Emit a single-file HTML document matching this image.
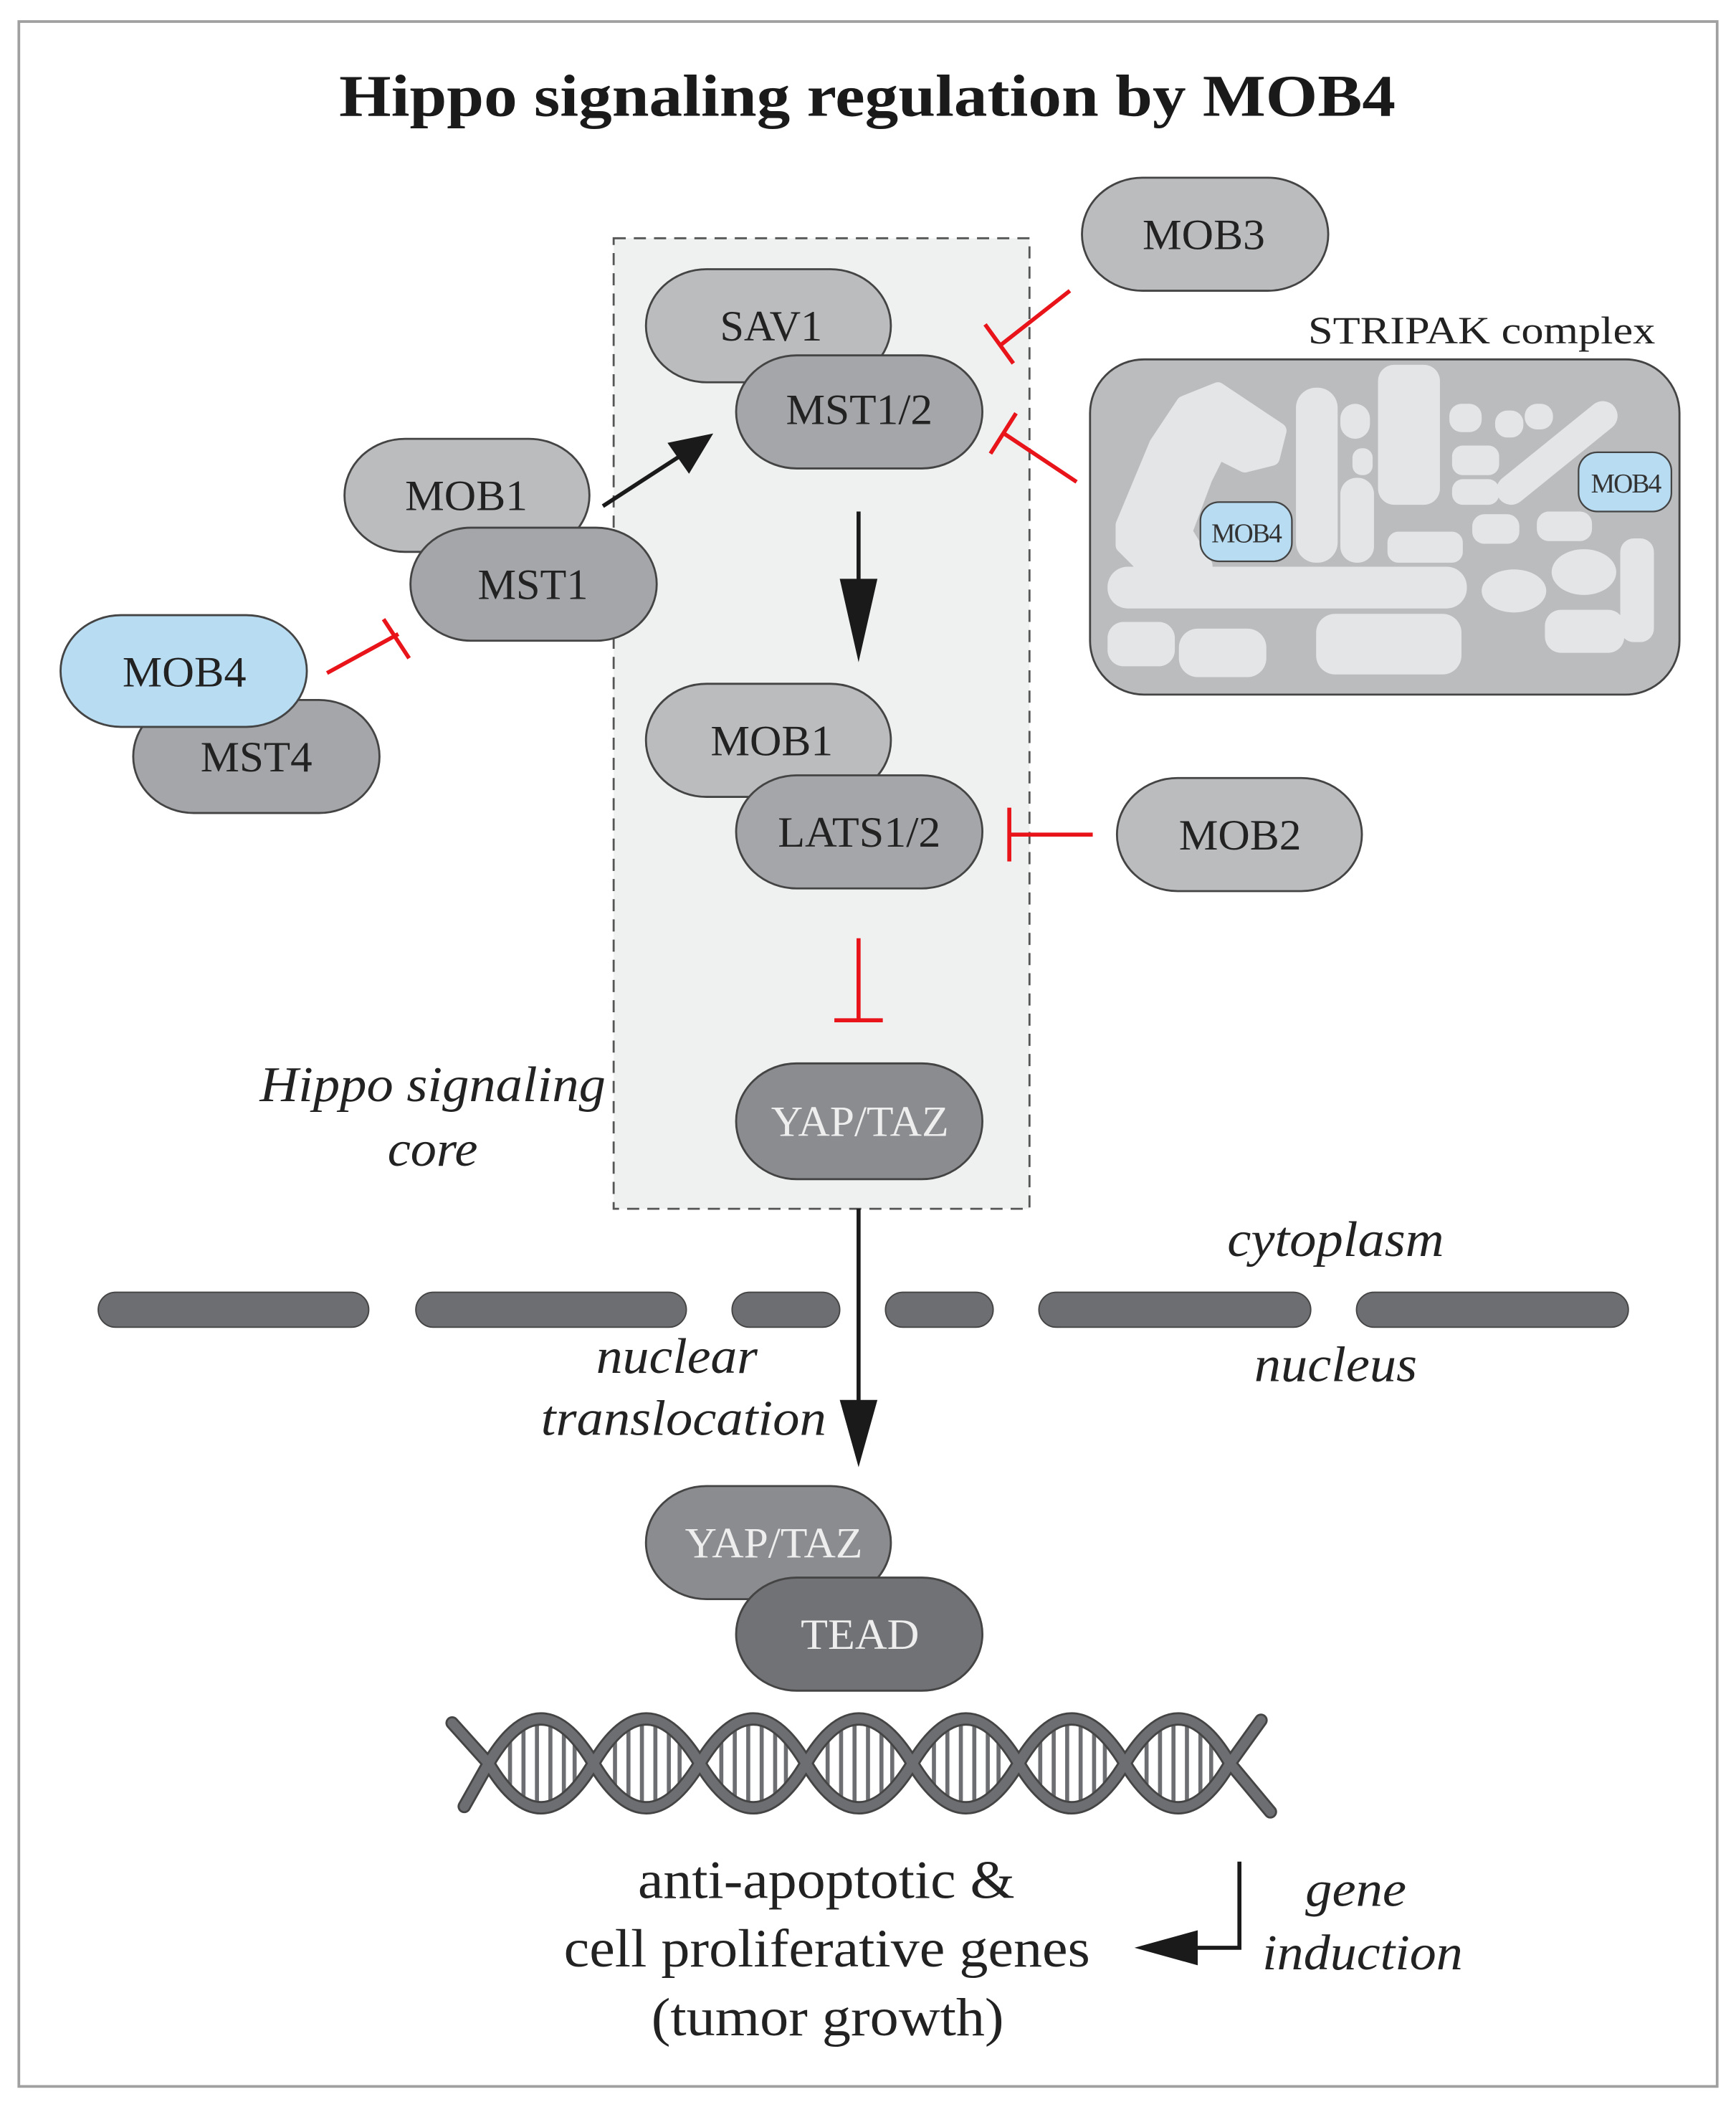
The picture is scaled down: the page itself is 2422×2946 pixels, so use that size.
<!DOCTYPE html>
<html><head><meta charset="utf-8"><style>
html,body{margin:0;padding:0;background:#fff;}
svg{display:block;}
text{font-family:"Liberation Serif",serif;}
</style></head><body>
<svg width="2422" height="2946" viewBox="0 0 1290 1569" preserveAspectRatio="none" xmlns="http://www.w3.org/2000/svg">
<defs>
<g id="rungs" stroke="#6d6e71" stroke-width="3">
<line x1="16" y1="-18" x2="16" y2="18"/><line x1="26" y1="-26" x2="26" y2="26"/>
<line x1="36" y1="-29" x2="36" y2="29"/><line x1="46" y1="-28" x2="46" y2="28"/>
<line x1="56" y1="-23" x2="56" y2="23"/><line x1="64" y1="-16" x2="64" y2="16"/>
</g>
</defs>
<rect x="14" y="16" width="1262" height="1534" fill="#fff" stroke="#a0a0a0" stroke-width="2"/>
<text x="252" y="86" font-size="44" font-weight="bold" fill="#1a1a1a" textLength="785" lengthAdjust="spacingAndGlyphs">Hippo signaling regulation by MOB4</text>

<rect x="456" y="177" width="309" height="721" fill="#eff1f1" stroke="#555" stroke-width="1.5" stroke-dasharray="9,6"/>

<g stroke="#444" stroke-width="1.5" font-size="32">
<rect x="480" y="200" width="182" height="84" rx="45" fill="#bbbcbe"/>
<text x="535" y="253" fill="#222" stroke="none" textLength="76" lengthAdjust="spacingAndGlyphs">SAV1</text>
<rect x="547" y="264" width="183" height="84" rx="45" fill="#a4a6a9"/>
<text x="584" y="315" fill="#222" stroke="none" textLength="109" lengthAdjust="spacingAndGlyphs">MST1/2</text>
<rect x="804" y="132" width="183" height="84" rx="45" fill="#bbbcbe"/>
<text x="849" y="185" fill="#222" stroke="none" textLength="91" lengthAdjust="spacingAndGlyphs">MOB3</text>
<rect x="256" y="326" width="182" height="84" rx="45" fill="#bbbcbe"/>
<text x="301" y="379" fill="#222" stroke="none" textLength="91" lengthAdjust="spacingAndGlyphs">MOB1</text>
<rect x="305" y="392" width="183" height="84" rx="45" fill="#a4a6a9"/>
<text x="355" y="445" fill="#222" stroke="none" textLength="82" lengthAdjust="spacingAndGlyphs">MST1</text>
<rect x="99" y="520" width="183" height="84" rx="45" fill="#a4a6a9"/>
<text x="149" y="573" fill="#222" stroke="none" textLength="83" lengthAdjust="spacingAndGlyphs">MST4</text>
<rect x="45" y="457" width="183" height="83" rx="45" fill="#b8dcf2"/>
<text x="91" y="510" fill="#222" stroke="none" textLength="92" lengthAdjust="spacingAndGlyphs">MOB4</text>
<rect x="480" y="508" width="182" height="84" rx="45" fill="#bbbcbe"/>
<text x="528" y="561" fill="#222" stroke="none" textLength="91" lengthAdjust="spacingAndGlyphs">MOB1</text>
<rect x="547" y="576" width="183" height="84" rx="45" fill="#a4a6a9"/>
<text x="578" y="629" fill="#222" stroke="none" textLength="121" lengthAdjust="spacingAndGlyphs">LATS1/2</text>
<rect x="830" y="578" width="182" height="84" rx="45" fill="#bbbcbe"/>
<text x="876" y="631" fill="#222" stroke="none" textLength="91" lengthAdjust="spacingAndGlyphs">MOB2</text>
<rect x="547" y="790" width="183" height="86" rx="45" fill="#8b8c8f"/>
<text x="573" y="844" fill="#eee" stroke="none" textLength="132" lengthAdjust="spacingAndGlyphs">YAP/TAZ</text>
<rect x="480" y="1104" width="182" height="84" rx="45" fill="#8b8c8f"/>
<text x="509" y="1157" fill="#eee" stroke="none" textLength="132" lengthAdjust="spacingAndGlyphs">YAP/TAZ</text>
<rect x="547" y="1172" width="183" height="84" rx="45" fill="#717275"/>
<text x="595" y="1225" fill="#eee" stroke="none" textLength="88" lengthAdjust="spacingAndGlyphs">TEAD</text>
</g>

<text x="972" y="255" font-size="29" fill="#222" textLength="258" lengthAdjust="spacingAndGlyphs">STRIPAK complex</text>
<rect x="810" y="267" width="438" height="249" rx="40" fill="#bbbcbe" stroke="#444" stroke-width="1.5"/>
<g fill="#e4e5e6">
<path d="M880 300 L905 290 L950 320 L945 340 L925 345 L905 335 L895 355 L880 395 L895 420 L880 435 L860 430 L835 405 L835 390 L860 330 Z" stroke="#e4e5e6" stroke-width="12" stroke-linejoin="round"/>
<rect x="963" y="288" width="31" height="130" rx="15"/>
<rect x="996" y="300" width="22" height="26" rx="11"/>
<rect x="1005" y="333" width="15" height="20" rx="7"/>
<rect x="996" y="355" width="25" height="63" rx="12"/>
<rect x="1024" y="271" width="46" height="104" rx="12"/>
<rect x="1077" y="300" width="24" height="21" rx="9"/>
<rect x="1111" y="305" width="21" height="20" rx="9"/>
<rect x="1133" y="300" width="21" height="19" rx="9"/>
<rect x="1079" y="331" width="35" height="22" rx="8"/>
<rect x="1079" y="356" width="35" height="19" rx="8"/>
<line x1="1191" y1="309" x2="1123" y2="364" stroke="#e4e5e6" stroke-width="22" stroke-linecap="round"/>
<rect x="1094" y="382" width="35" height="22" rx="9"/>
<rect x="1142" y="380" width="41" height="22" rx="9"/>
<rect x="1031" y="395" width="56" height="23" rx="8"/>
<ellipse cx="1177" cy="425" rx="24" ry="17"/>
<ellipse cx="1125" cy="439" rx="24" ry="16"/>
<rect x="1204" y="400" width="25" height="77" rx="10"/>
<rect x="823" y="421" width="267" height="31" rx="15"/>
<rect x="1148" y="453" width="59" height="32" rx="12"/>
<rect x="823" y="462" width="50" height="33" rx="12"/>
<rect x="876" y="467" width="65" height="36" rx="14"/>
<rect x="978" y="456" width="108" height="45" rx="14"/>
</g>
<g stroke="#444" stroke-width="1.2" font-size="20" text-anchor="middle" letter-spacing="-1">
<rect x="892" y="373" width="68" height="44" rx="14" fill="#b8dcf2"/>
<text x="926" y="403" fill="#333" stroke="none">MOB4</text>
<rect x="1173" y="336" width="69" height="44" rx="14" fill="#b8dcf2"/>
<text x="1208" y="366" fill="#333" stroke="none">MOB4</text>
</g>

<g stroke="#1a1a1a" stroke-width="3" fill="#1a1a1a">
<line x1="448" y1="376" x2="505" y2="339"/>
<polygon points="530,322 496,329 512,352" stroke="none"/>
<line x1="638" y1="380" x2="638" y2="445"/>
<polygon points="624,430 652,430 638,492" stroke="none"/>
<line x1="638" y1="898" x2="638" y2="1045"/>
<polygon points="624,1040 652,1040 638,1090" stroke="none"/>
<polyline points="921,1383 921,1447 885,1447" fill="none"/>
<polygon points="890,1434 890,1460 843,1447" stroke="none"/>
</g>

<g stroke="#e8141a" stroke-width="3" fill="none">
<line x1="243" y1="500" x2="296" y2="471"/><line x1="285" y1="460" x2="304" y2="489"/>
<line x1="795" y1="216" x2="744" y2="256"/><line x1="732" y1="241" x2="753" y2="270"/>
<line x1="800" y1="358" x2="746" y2="322"/><line x1="755" y1="307" x2="736" y2="337"/>
<line x1="812" y1="620" x2="750" y2="620"/><line x1="750" y1="600" x2="750" y2="640"/>
<line x1="638" y1="697" x2="638" y2="758"/><line x1="620" y1="758" x2="656" y2="758"/>
</g>

<g fill="#6d6e71" stroke="#444" stroke-width="1">
<rect x="73" y="960" width="201" height="26" rx="13"/>
<rect x="309" y="960" width="201" height="26" rx="13"/>
<rect x="544" y="960" width="80" height="26" rx="13"/>
<rect x="658" y="960" width="80" height="26" rx="13"/>
<rect x="772" y="960" width="202" height="26" rx="13"/>
<rect x="1008" y="960" width="202" height="26" rx="13"/>
</g>

<g font-size="37" font-style="italic" fill="#222">
<text x="193" y="818" textLength="257" lengthAdjust="spacingAndGlyphs">Hippo signaling</text>
<text x="288" y="866" textLength="67" lengthAdjust="spacingAndGlyphs">core</text>
<text x="912" y="933" textLength="161" lengthAdjust="spacingAndGlyphs">cytoplasm</text>
<text x="932" y="1026" textLength="121" lengthAdjust="spacingAndGlyphs">nucleus</text>
<text x="443" y="1020" textLength="120" lengthAdjust="spacingAndGlyphs">nuclear</text>
<text x="402" y="1066" textLength="212" lengthAdjust="spacingAndGlyphs">translocation</text>
<text x="970" y="1416" textLength="75" lengthAdjust="spacingAndGlyphs">gene</text>
<text x="938" y="1463" textLength="149" lengthAdjust="spacingAndGlyphs">induction</text>
</g>

<g>
<use href="#rungs" x="363" y="1310"/><use href="#rungs" x="441" y="1310"/>
<use href="#rungs" x="520" y="1310"/><use href="#rungs" x="599" y="1310"/>
<use href="#rungs" x="678" y="1310"/><use href="#rungs" x="757" y="1310"/>
<use href="#rungs" x="836" y="1310"/>
</g>
<g fill="none" stroke-linecap="round">
<path d="M336 1280 L363 1310 Q402 1376 441 1310 T520 1310 T599 1310 T678 1310 T757 1310 T836 1310 T914 1310 L944 1346" stroke="#444" stroke-width="10"/>
<path d="M345 1342 L363 1310 Q402 1244 441 1310 T520 1310 T599 1310 T678 1310 T757 1310 T836 1310 T914 1310 L937 1278" stroke="#444" stroke-width="10"/>
<path d="M336 1280 L363 1310 Q402 1376 441 1310 T520 1310 T599 1310 T678 1310 T757 1310 T836 1310 T914 1310 L944 1346" stroke="#6d6e71" stroke-width="7"/>
<path d="M345 1342 L363 1310 Q402 1244 441 1310 T520 1310 T599 1310 T678 1310 T757 1310 T836 1310 T914 1310 L937 1278" stroke="#6d6e71" stroke-width="7"/>
</g>

<g font-size="40" fill="#222">
<text x="474" y="1410" textLength="280" lengthAdjust="spacingAndGlyphs">anti-apoptotic &amp;</text>
<text x="419" y="1461" textLength="391" lengthAdjust="spacingAndGlyphs">cell proliferative genes</text>
<text x="484" y="1512" textLength="262" lengthAdjust="spacingAndGlyphs">(tumor growth)</text>
</g>
</svg>
</body></html>
